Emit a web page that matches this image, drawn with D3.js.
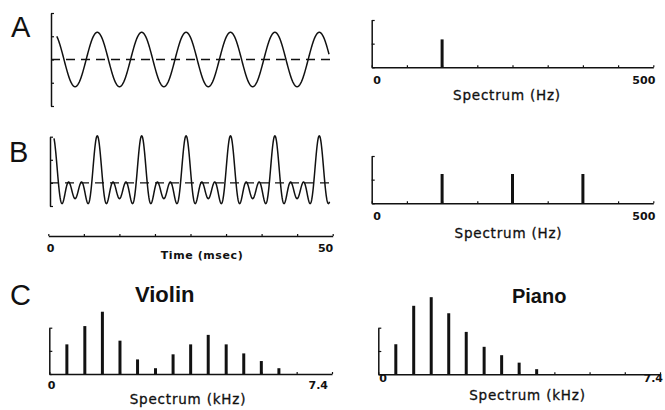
<!DOCTYPE html>
<html>
<head>
<meta charset="utf-8">
<script src="https://cdn.jsdelivr.net/npm/d3@7"></script>
<style>
  html, body { margin: 0; padding: 0; background: #fff; }
  svg { display: block; }
  .lab { font-family: "DejaVu Sans", sans-serif; fill: #111; }
</style>
</head>
<body>
<svg id="chart" width="665" height="410"></svg>
<script>
// ---------------- DATA ----------------
const panelLetters = ["A", "B", "C"];
const instrumentNames = ["Violin", "Piano"];

// waveforms (synthesised from their harmonic content)
const fundamentalHz = 125;
const waveA_harmonics = [1];
const waveA_amps = [1.17];
const waveB_harmonics = [1, 2, 3];
const waveB_amps = [0.68, 0.68, 0.68];
const wavePeakTimeMs = 0.7;
const waveA_spanMs = [1.4, 50.5];
const waveB_spanMs = [0.9, 50.6];

// time axis
const timeDomainMs = [0, 50];
const timeTicks = [0, 6.25, 12.5, 18.75, 25, 31.25, 37.5, 43.75, 50];
const timeTickLabels = ["0", "50"];

// spectra in Hz
const hzDomain = [0, 500];
const hzTicks = [0, 62.5, 125, 187.5, 250, 312.5, 375, 437.5, 500];
const hzTickLabels = ["0", "500"];
const specA_freqHz = [125];
const specA_amp = [1.18];
const specB_freqHz = [125, 250, 375];
const specB_amp = [1.24, 1.24, 1.24];

// spectra in kHz
const khzDomain = [0, 7.4];
const khzTicks = [0, 0.925, 1.85, 2.775, 3.7, 4.625, 5.55, 6.475, 7.4];
const khzTickLabels = ["0", "7.4"];
const violin_kHz = [0.46, 0.93, 1.39, 1.85, 2.31, 2.78, 3.24, 3.70, 4.16, 4.63, 5.09, 5.55, 6.01];
const violin_amp = [1.28, 2.07, 2.69, 1.44, 0.63, 0.25, 0.85, 1.28, 1.69, 1.28, 0.89, 0.56, 0.25];
const piano_kHz = [0.46, 0.93, 1.39, 1.85, 2.31, 2.78, 3.24, 3.70, 4.16];
const piano_amp = [1.29, 2.94, 3.31, 2.62, 1.82, 1.18, 0.82, 0.50, 0.22];

const ampDomain = [0, 2];
const ampTicks = [0, 1, 2];

// ---------------- DRAW ----------------
const svg = d3.select("#chart");

function styleAxis(g) {
  g.selectAll("path.domain").attr("stroke", "#111").attr("stroke-width", 1.5);
  g.selectAll(".tick line").attr("stroke", "#111").attr("stroke-width", 1.2);
  g.selectAll(".tick text").remove();
}

// Panel letters
const letterPos = [[11, 37], [9, 162], [10, 305]];
panelLetters.forEach((L, i) => {
  svg.append("text").attr("x", letterPos[i][0]).attr("y", letterPos[i][1])
    .attr("font-family", "Liberation Sans, Arial, sans-serif").attr("font-size", 29)
    .attr("fill", "#111").text(L);
});

// ---- waveform panels ----
const xWave = d3.scaleLinear().domain(timeDomainMs).range([49, 326.5]);
function waveValue(t, harm, amps) {
  let s = 0;
  harm.forEach((h, i) => { s += amps[i] * Math.cos(2 * Math.PI * h * fundamentalHz * (t - wavePeakTimeMs) / 1000); });
  return s;
}
function drawWave(cfg) {
  const y = d3.scaleLinear().domain(cfg.domain).range(cfg.yRange);
  const ax = svg.append("g").attr("transform", `translate(${cfg.axisX},0)`)
    .call(d3.axisLeft(y).tickValues(cfg.ticks).tickSizeInner(-3).tickSizeOuter(0));
  styleAxis(ax);
  // dashed zero line
  svg.append("line").attr("x1", cfg.axisX).attr("x2", 330)
    .attr("y1", y(0)).attr("y2", y(0))
    .attr("stroke", "#111").attr("stroke-width", 1.3).attr("stroke-dasharray", "9,6");
  const ts = d3.range(cfg.span[0], cfg.span[1], 0.05);
  svg.append("path").datum(ts)
    .attr("fill", "none").attr("stroke", "#111").attr("stroke-width", 1.5)
    .attr("d", d3.line().x(t => xWave(t)).y(t => y(waveValue(t, cfg.harm, cfg.amps))));
}
drawWave({ domain: [-2, 2], yRange: [106, 13], ticks: [-2, -1, 0, 1, 2], axisX: 51,
  harm: waveA_harmonics, amps: waveA_amps, span: waveA_spanMs });
drawWave({ domain: [-1, 2], yRange: [206, 136.7], ticks: [-1, 0, 1, 2], axisX: 50,
  harm: waveB_harmonics, amps: waveB_amps, span: waveB_spanMs });

// time axis
const xTime = d3.scaleLinear().domain(timeDomainMs).range([48.3, 332.7]);
const tAx = svg.append("g").attr("transform", "translate(0,236)")
  .call(d3.axisBottom(xTime).tickValues(timeTicks).tickSizeInner(-2).tickSizeOuter(0));
styleAxis(tAx);
svg.append("text").attr("class", "lab").attr("x", xTime(timeDomainMs[0]) - 1.5).attr("y", 252)
  .attr("font-size", 11).attr("font-weight", "bold").text(timeTickLabels[0]);
svg.append("text").attr("class", "lab").attr("x", xTime(timeDomainMs[1]) + 0.5).attr("y", 252)
  .attr("font-size", 11).attr("font-weight", "bold").attr("text-anchor", "end").text(timeTickLabels[1]);
svg.append("text").attr("class", "lab").attr("x", 202).attr("y", 259)
  .attr("font-size", 11).attr("font-weight", "bold").attr("letter-spacing", 0.6)
  .attr("text-anchor", "middle").text("Time (msec)");

// ---- spectrum panels ----
function drawSpectrum(cfg) {
  const x = d3.scaleLinear().domain(cfg.xDomain).range(cfg.xRange);
  const y = d3.scaleLinear().domain(ampDomain).range(cfg.yRange);
  const base = cfg.yRange[0];
  const xa = svg.append("g").attr("transform", `translate(0,${base})`)
    .call(d3.axisBottom(x).tickValues(cfg.xTicks).tickSizeInner(-2).tickSizeOuter(0));
  styleAxis(xa);
  const ya = svg.append("g").attr("transform", `translate(${cfg.xRange[0]},0)`)
    .call(d3.axisLeft(y).tickValues(ampTicks).tickSizeInner(-3).tickSizeOuter(0));
  styleAxis(ya);
  svg.append("g").selectAll("line").data(cfg.freqs).join("line")
    .attr("x1", d => x(d)).attr("x2", d => x(d))
    .attr("y1", base).attr("y2", (d, i) => y(cfg.amps[i]))
    .attr("stroke", "#111").attr("stroke-width", 3);
  svg.append("text").attr("class", "lab").attr("x", x(cfg.xDomain[0]) + cfg.l0dx).attr("y", cfg.numY)
    .attr("font-size", 11).attr("font-weight", "bold").text(cfg.tickLabels[0]);
  svg.append("text").attr("class", "lab").attr("x", x(cfg.xDomain[1]) + cfg.l1dx).attr("y", cfg.numY)
    .attr("font-size", 11).attr("font-weight", "bold").attr("text-anchor", "end").text(cfg.tickLabels[1]);
  svg.append("text").attr("class", "lab").attr("x", cfg.titleX).attr("y", cfg.titleY)
    .attr("font-size", 13.5).attr("letter-spacing", 0.8).attr("text-anchor", "middle")
    .attr("stroke", "#111").attr("stroke-width", 0.3).text(cfg.title);
}

drawSpectrum({ xDomain: hzDomain, xRange: [371.7, 653.3], yRange: [67.3, 20], xTicks: hzTicks,
  freqs: specA_freqHz, amps: specA_amp, tickLabels: hzTickLabels, l0dx: 1.5, l1dx: 2,
  numY: 84, title: "Spectrum (Hz)", titleX: 507, titleY: 100 });
drawSpectrum({ xDomain: hzDomain, xRange: [371.7, 653.3], yRange: [203.3, 156], xTicks: hzTicks,
  freqs: specB_freqHz, amps: specB_amp, tickLabels: hzTickLabels, l0dx: 1.5, l1dx: 2,
  numY: 220, title: "Spectrum (Hz)", titleX: 508.5, titleY: 238 });
drawSpectrum({ xDomain: khzDomain, xRange: [49.3, 332], yRange: [374, 327.7], xTicks: khzTicks,
  freqs: violin_kHz, amps: violin_amp, tickLabels: khzTickLabels, l0dx: -1.5, l1dx: -4,
  numY: 389, title: "Spectrum (kHz)", titleX: 188, titleY: 404 });
drawSpectrum({ xDomain: khzDomain, xRange: [378.3, 660], yRange: [374.3, 327.7], xTicks: khzTicks,
  freqs: piano_kHz, amps: piano_amp, tickLabels: khzTickLabels, l0dx: 1, l1dx: 3,
  numY: 382, title: "Spectrum (kHz)", titleX: 527.5, titleY: 400 });

// instrument titles
svg.append("text").attr("x", 164.7).attr("y", 302).attr("text-anchor", "middle")
  .attr("font-family", "Liberation Sans, Arial, sans-serif").attr("font-weight", "bold")
  .attr("font-size", 22).attr("fill", "#111").text(instrumentNames[0]);
svg.append("text").attr("x", 539.2).attr("y", 303).attr("text-anchor", "middle")
  .attr("font-family", "Liberation Sans, Arial, sans-serif").attr("font-weight", "bold")
  .attr("font-size", 20).attr("fill", "#111").text(instrumentNames[1]);
</script>
</body>
</html>
